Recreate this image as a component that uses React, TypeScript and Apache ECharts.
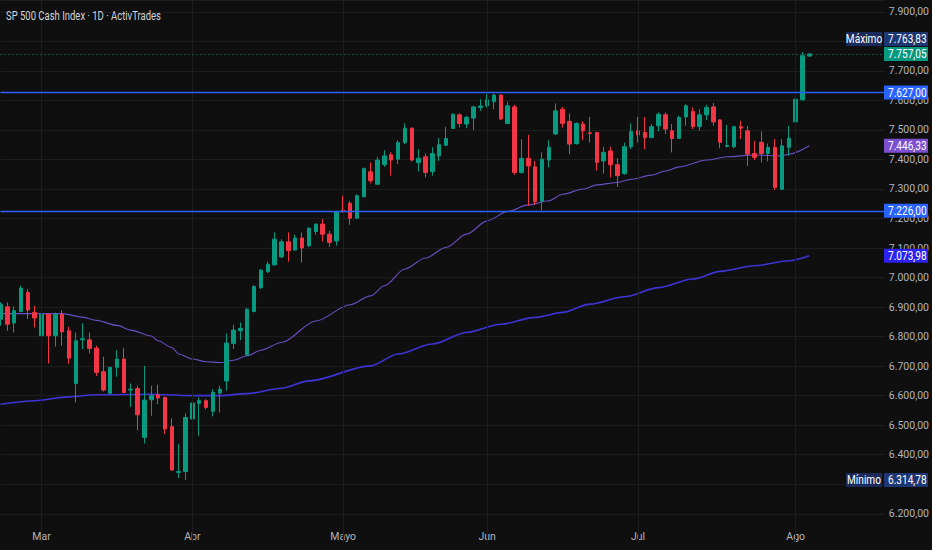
import React, { useEffect, useRef } from 'react';
import * as echarts from 'echarts';

// ---- Data (daily candles, oldest first) ----
const OPEN = [
  6859, 6901, 6846, 6885, 6950, 6882, 6803, 6876, 6803, 6876,
  6820, 6641, 6789, 6789, 6761, 6681, 6608, 6696, 6724, 6619,
  6624, 6459, 6586, 6603, 6594, 6495, 6340, 6343, 6521, 6574,
  6583, 6547, 6609, 6650, 6777, 6820, 6738, 6885, 6966, 7020,
  7043, 7070, 7121, 7093, 7134, 7108, 7156, 7181, 7147, 7124,
  7229, 7252, 7201, 7274, 7358, 7316, 7382, 7416, 7401, 7457,
  7506, 7389, 7409, 7359, 7412, 7448, 7505, 7551, 7520, 7540,
  7576, 7582, 7596, 7618, 7522, 7578, 7356, 7404, 7375, 7258,
  7398, 7486, 7570, 7529, 7454, 7520, 7490, 7491, 7395, 7429,
  7382, 7352, 7443, 7497, 7491, 7474, 7514, 7551, 7497, 7471,
  7544, 7562, 7511, 7551, 7578, 7534, 7444, 7443, 7511, 7497,
  7420, 7458, 7420, 7441, 7299, 7441, 7527, 7602, 7750,
];
const CLOSE = [
  6910, 6842, 6888, 6964, 6890, 6863, 6876, 6803, 6876, 6816,
  6727, 6786, 6793, 6760, 6679, 6619, 6696, 6724, 6611, 6622,
  6535, 6585, 6600, 6592, 6487, 6348, 6343, 6526, 6575, 6583,
  6560, 6611, 6622, 6778, 6822, 6828, 6893, 6970, 7025, 7045,
  7130, 7121, 7091, 7134, 7100, 7167, 7181, 7147, 7119, 7223,
  7223, 7201, 7277, 7369, 7328, 7398, 7412, 7398, 7457, 7506,
  7398, 7404, 7356, 7420, 7450, 7471, 7553, 7522, 7542, 7578,
  7581, 7602, 7618, 7537, 7582, 7356, 7404, 7378, 7258, 7401,
  7441, 7565, 7522, 7452, 7522, 7497, 7488, 7390, 7424, 7382,
  7345, 7443, 7495, 7483, 7474, 7511, 7553, 7503, 7471, 7542,
  7582, 7511, 7551, 7576, 7527, 7458, 7447, 7511, 7506, 7418,
  7407, 7420, 7441, 7305, 7446, 7472, 7604, 7751, 7757.05,
];
const LOW = [
  6837, 6820, 6814, 6882, 6859, 6831, 6761, 6709, 6766, 6769,
  6707, 6577, 6758, 6743, 6667, 6614, 6605, 6664, 6608, 6562,
  6483, 6438, 6532, 6571, 6470, 6346, 6321, 6314.78, 6521, 6464,
  6554, 6530, 6543, 6617, 6758, 6788, 6735, 6882, 6961, 7015,
  7040, 7066, 7054, 7091, 7051, 7104, 7145, 7122, 7104, 7108,
  7220, 7179, 7198, 7271, 7319, 7314, 7375, 7345, 7384, 7452,
  7393, 7359, 7339, 7345, 7395, 7446, 7503, 7508, 7506, 7499,
  7565, 7576, 7570, 7533, 7520, 7348, 7352, 7243, 7246, 7228,
  7373, 7483, 7508, 7418, 7450, 7465, 7457, 7362, 7352, 7339,
  7307, 7348, 7435, 7457, 7435, 7472, 7495, 7486, 7424, 7469,
  7514, 7503, 7497, 7533, 7514, 7438, 7441, 7438, 7469, 7378,
  7398, 7390, 7393, 7296, 7296, 7412, 7520, 7599, 7748,
];
const HIGH = [
  6916, 6916, 6902, 6972, 6961, 6904, 6901, 6876, 6882, 6890,
  6833, 6814, 6845, 6814, 6769, 6732, 6698, 6754, 6761, 6641,
  6633, 6701, 6633, 6637, 6597, 6523, 6436, 6540, 6607, 6594,
  6588, 6622, 6633, 6811, 6840, 6848, 6896, 6974, 7029, 7054,
  7153, 7130, 7153, 7145, 7153, 7170, 7183, 7198, 7158, 7226,
  7277, 7260, 7282, 7373, 7390, 7409, 7431, 7424, 7465, 7522,
  7508, 7435, 7420, 7441, 7472, 7510, 7556, 7556, 7548, 7582,
  7604, 7621, 7623, 7619, 7596, 7585, 7469, 7483, 7395, 7424,
  7465, 7590, 7578, 7556, 7525, 7529, 7544, 7494, 7443, 7443,
  7404, 7457, 7522, 7544, 7544, 7520, 7559, 7559, 7520, 7548,
  7587, 7576, 7570, 7585, 7591, 7536, 7517, 7514, 7531, 7514,
  7463, 7495, 7454, 7469, 7469, 7514, 7616, 7763.83, 7760,
];
const EMPTY_SLOTS = 11; // free space right of the last candle

// Month labels (1-based candle number where each month label sits)
const MONTH_NAMES = ['Mar', 'Abr', 'Mayo', 'Jun', 'Jul', 'Ago'];
const MONTH_START = [7, 29, 51, 72, 94, 117];

// Moving averages, read at selected candles
const MA_FAST_AT = [1, 10, 13, 15, 18, 20, 23, 24, 26, 27, 29, 31, 33, 35, 37, 39, 42, 47, 52, 55, 57, 60, 63, 66, 69, 72, 75, 78, 81, 83, 86, 88, 91, 93, 96, 98, 100, 104, 107, 111, 115, 116, 119];
const MA_FAST_VAL = [6878, 6878, 6866, 6855, 6838, 6822, 6802, 6786, 6763, 6741, 6724, 6715, 6712, 6720, 6735, 6754, 6780, 6853, 6908, 6938, 6972, 7029, 7066, 7102, 7147, 7192, 7224, 7246, 7260, 7282, 7300, 7314, 7322, 7333, 7347, 7361, 7375, 7398, 7409, 7415, 7412, 7418, 7446.33];
const MA_SLOW_AT = [1, 6, 11, 15, 23, 25, 29, 33, 37, 42, 46, 55, 59, 64, 69, 74, 79, 83, 87, 92, 97, 102, 106, 111, 116, 119];
const MA_SLOW_VAL = [6571, 6583, 6596, 6603, 6605, 6603, 6600, 6600, 6607, 6625, 6650, 6701, 6741, 6775, 6814, 6842, 6865, 6882, 6910, 6935, 6966, 6995, 7021, 7040, 7057, 7073.98];

const RESISTANCE = 7627;
const SUPPORT = 7226;
const LAST_PRICE = 7757.05;
const MAX_PRICE = 7763.83;
const MIN_PRICE = 6314.78;
const TITLE = 'SP 500 Cash Index · 1D · ActivTrades';

const Y_MIN = 6100;
const Y_MAX = 7940;
const Y_STEP = 100;

// ---- Styling ----
const FONT = "Roboto, 'Liberation Sans', sans-serif";
const BG = '#0f0f0f';
const GRID = '#1d1d1d';
const UP = '#089981';
const DOWN = '#F23645';
const LEVEL = '#2962FF';
const MA_FAST_COLOR = '#6a4ec4';
const MA_FAST_TAG = '#7b4fd0';
const MA_SLOW_COLOR = '#3f33d6';
const MA_SLOW_TAG = '#2d22f0';
const TEXT = '#b2b5be';

function fmt(v: number): string {
  const [i, d] = v.toFixed(2).split('.');
  return i.replace(/\B(?=(\d{3})+(?!\d))/g, '.') + ',' + d;
}

function sparse(at: number[], val: number[], n: number): (number | null)[] {
  const arr: (number | null)[] = new Array(n).fill(null);
  at.forEach((a, k) => { arr[a - 1] = val[k]; });
  return arr;
}

export default function App() {
  const ref = useRef<HTMLDivElement>(null);

  useEffect(() => {
    if (!ref.current) return;
    const chart = echarts.init(ref.current, null, { renderer: 'svg' });
    const n = OPEN.length + EMPTY_SLOTS;
    const cats = Array.from({ length: n }, (_, k) => 'D' + (k + 1));
    const monthIdx = new Map<number, string>();
    MONTH_START.forEach((s, k) => monthIdx.set(s - 1, MONTH_NAMES[k]));
    const candles = OPEN.map((o, k) => [o, CLOSE[k], LOW[k], HIGH[k]]);

    const gridLeft = 0.44;
    const gridRight = 45.56;
    const tagX = 884;
    let hidden = new Set<number>();

    chart.setOption({
      animation: false,
      backgroundColor: BG,
      grid: { left: gridLeft, right: gridRight, top: 0, bottom: 6.7, containLabel: false },
      xAxis: {
        type: 'category',
        data: cats,
        boundaryGap: false,
        axisLine: { show: true, lineStyle: { color: BG, width: 3 } },
        axisTick: { show: false },
        splitLine: { show: false },
        axisLabel: {
          inside: true,
          margin: 1,
          color: TEXT,
          fontSize: 10.5,
          fontFamily: FONT,
          interval: (idx: number) => monthIdx.has(idx),
          formatter: (_v: string, idx: number) => monthIdx.get(idx) || '',
        },
      },
      yAxis: {
        type: 'value',
        position: 'right',
        min: Y_MIN,
        max: Y_MAX,
        interval: Y_STEP,
        axisLine: { show: false },
        axisTick: { show: false },
        splitLine: { show: true, lineStyle: { color: GRID, width: 1 } },
        axisLabel: {
          color: TEXT,
          fontSize: 10.5,
          fontFamily: FONT,
          margin: 4,
          showMinLabel: false,
          showMaxLabel: false,
          formatter: (v: number) => (hidden.has(v) ? '' : fmt(v)),
        },
      },
      series: [
        {
          name: 'grid-v',
          type: 'line',
          z: 1,
          data: cats.map(() => null),
          silent: true,
          markLine: {
            silent: true,
            symbol: ['none', 'none'],
            label: { show: false },
            lineStyle: { color: GRID, width: 1, type: 'solid' },
            data: MONTH_START.map((s) => ({ xAxis: cats[s - 1] })),
          },
        },
        {
          name: 'MA lenta',
          type: 'line',
          z: 2,
          data: sparse(MA_SLOW_AT, MA_SLOW_VAL, n),
          connectNulls: true,
          showSymbol: false,
          smooth: 0.3,
          smoothMonotone: 'x',
          lineStyle: { color: MA_SLOW_COLOR, width: 1.6 },
          silent: true,
        },
        {
          name: 'MA rápida',
          type: 'line',
          z: 2,
          data: sparse(MA_FAST_AT, MA_FAST_VAL, n),
          connectNulls: true,
          showSymbol: false,
          smooth: 0.3,
          smoothMonotone: 'x',
          lineStyle: { color: MA_FAST_COLOR, width: 1.1 },
          silent: true,
        },
        {
          name: 'SP 500',
          type: 'candlestick',
          z: 3,
          data: candles,
          barWidth: 4,
          itemStyle: {
            color: UP,
            color0: DOWN,
            borderColor: UP,
            borderColor0: DOWN,
            borderWidth: 1,
          },
          markLine: {
            silent: true,
            symbol: ['none', 'none'],
            label: { show: false },
            data: [
              { yAxis: RESISTANCE, lineStyle: { color: LEVEL, width: 1.3, type: 'solid' } },
              { yAxis: SUPPORT, lineStyle: { color: LEVEL, width: 1.3, type: 'solid' } },
              { yAxis: LAST_PRICE, lineStyle: { color: UP, width: 1, type: [1, 3] } },
            ],
          },
        },
      ],
    });

    const yPx = (v: number) => chart.convertToPixel({ yAxisIndex: 0 }, v) as number;
    const tagW = 44;
    const tagH = 14;
    const SQUEEZE = 0.84;
    const els: any[] = [];
    const centers: number[] = [];
    const addBox = (x: number, cy: number, w: number, bg: string, text: string, center: boolean) => {
      els.push({
        type: 'rect',
        z: 100,
        shape: { x, y: cy - tagH / 2, width: w, height: tagH },
        style: { fill: bg },
      });
      els.push({
        type: 'text',
        z: 101,
        x: center ? x + w / 2 : x + 4,
        y: cy + 0.5,
        scaleX: SQUEEZE,
        style: {
          text,
          fill: '#ffffff',
          fontSize: 12,
          fontFamily: FONT,
          textAlign: center ? 'center' : 'left',
          textVerticalAlign: 'middle',
          align: center ? 'center' : 'left',
          verticalAlign: 'middle',
        },
      });
    };

    // Title
    els.push({
      type: 'text',
      z: 101,
      x: 6,
      y: 16,
      scaleX: 0.76,
      style: {
        text: TITLE,
        fill: '#d1d4dc',
        fontSize: 12.5,
        fontFamily: FONT,
        textAlign: 'left',
        textVerticalAlign: 'middle',
        align: 'left',
        verticalAlign: 'middle',
      },
    });

    const lastY = yPx(LAST_PRICE);
    const tags = [
      { v: LAST_PRICE, bg: UP },
      { v: RESISTANCE, bg: LEVEL },
      { v: MA_FAST_VAL[MA_FAST_VAL.length - 1], bg: MA_FAST_TAG },
      { v: SUPPORT, bg: LEVEL },
      { v: MA_SLOW_VAL[MA_SLOW_VAL.length - 1], bg: MA_SLOW_TAG },
    ];
    tags.forEach((t) => {
      const cy = yPx(t.v);
      centers.push(cy);
      addBox(tagX, cy, tagW, t.bg, fmt(t.v), false);
    });

    // Máximo / Mínimo tags (Máximo pushed up to avoid the last-price tag)
    const maxY = Math.min(yPx(MAX_PRICE), lastY - (tagH + 1));
    addBox(tagX - 38, maxY, 36, '#1a2b5b', 'Máximo', true);
    addBox(tagX, maxY, tagW, '#1d3674', fmt(MAX_PRICE), false);
    const minY = yPx(MIN_PRICE);
    addBox(tagX - 38, minY, 36, '#1a2b5b', 'Mínimo', true);
    addBox(tagX, minY, tagW, '#1d3674', fmt(MIN_PRICE), false);
    centers.push(maxY, minY);

    // axis labels fully covered by a tag are not drawn (as in the reference)
    const hid = new Set<number>();
    for (let v = Y_MIN; v <= Y_MAX; v += Y_STEP) {
      const y = yPx(v);
      if (centers.some((c) => Math.abs(c - y) < 5)) hid.add(v);
    }
    hidden = hid;

    chart.setOption({
      yAxis: { axisLabel: { formatter: (v: number) => (hidden.has(v) ? '' : fmt(v)) } },
      graphic: { elements: els },
    });

    return () => chart.dispose();
  }, []);

  return (
    <div
      ref={ref}
      style={{ position: 'fixed', left: 0, top: 0, width: 932, height: 550 }}
    />
  );
}
